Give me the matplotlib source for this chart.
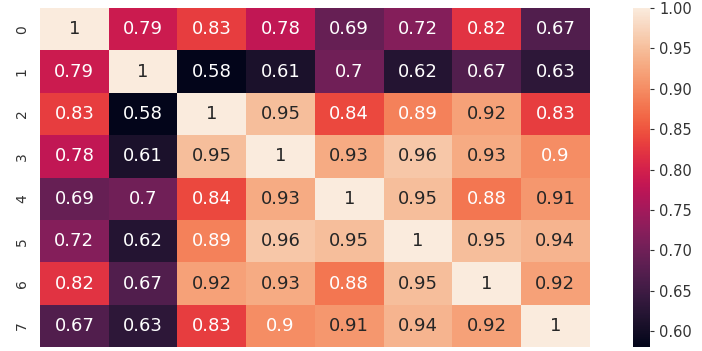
import numpy as np
import matplotlib
matplotlib.use("Agg")
import matplotlib.pyplot as plt
import seaborn as sns

# correlation matrix
row0 = [1, 0.79, 0.83, 0.78, 0.69, 0.72, 0.82, 0.67]
row1 = [0.79, 1, 0.58, 0.61, 0.7, 0.62, 0.67, 0.63]
row2 = [0.83, 0.58, 1, 0.95, 0.84, 0.89, 0.92, 0.83]
row3 = [0.78, 0.61, 0.95, 1, 0.93, 0.96, 0.93, 0.9]
row4 = [0.69, 0.7, 0.84, 0.93, 1, 0.95, 0.88, 0.91]
row5 = [0.72, 0.62, 0.89, 0.96, 0.95, 1, 0.95, 0.94]
row6 = [0.82, 0.67, 0.92, 0.93, 0.88, 0.95, 1, 0.92]
row7 = [0.67, 0.63, 0.83, 0.9, 0.91, 0.94, 0.92, 1]
row_labels = ["0", "1", "2", "3", "4", "5", "6", "7"]
cbar_ticks = [0.6, 0.65, 0.7, 0.75, 0.8, 0.85, 0.9, 0.95, 1.0]

corr = np.array([row0, row1, row2, row3, row4, row5, row6, row7])

sns.set_theme(style="white")

fig = plt.figure(figsize=(7.02, 3.51), dpi=100)
ax = fig.add_axes([0.057, 0.011, 0.783, 0.966])
cax = fig.add_axes([0.902, 0.011, 0.024, 0.966])

sns.heatmap(corr, annot=False, ax=ax, cbar_ax=cax,
            xticklabels=False, yticklabels=row_labels)

# annotations by hand: white text up to 0.9, dark above
for i in range(corr.shape[0]):
    for j in range(corr.shape[1]):
        v = corr[i, j]
        ax.text(j + 0.5, i + 0.5, "{:.2g}".format(v), ha="center", va="center",
                fontsize=13, color="#ffffff" if v < 0.905 else "#262626")

ax.tick_params(axis="y", labelsize=10, length=0, pad=8, colors="#333333")
cax.tick_params(labelsize=10.5, length=3, width=0.8, colors="#333333", direction="out")
cax.yaxis.set_ticks(cbar_ticks)
cax.set_yticklabels(["%.2f" % t for t in cbar_ticks])

fig.savefig("out.png", dpi=100)
